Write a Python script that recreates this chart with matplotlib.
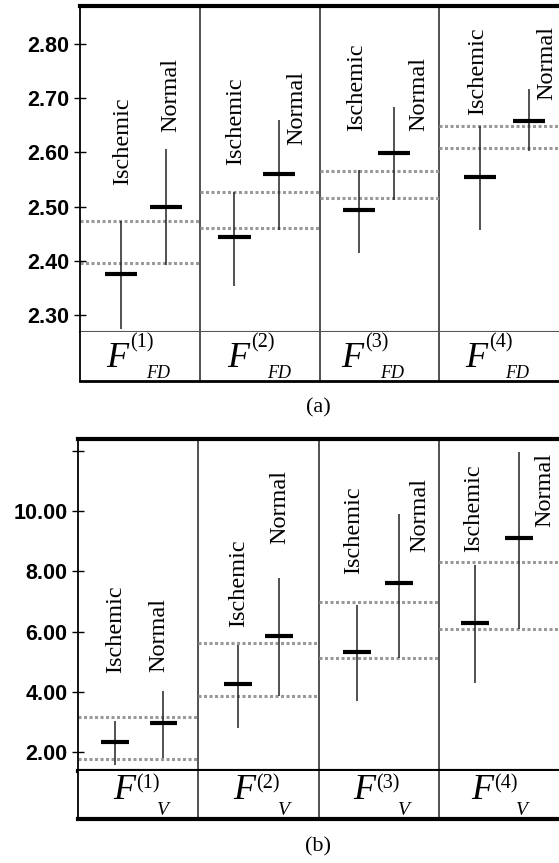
import matplotlib
matplotlib.use("Agg")
import matplotlib.pyplot as plt

# ---------------- data ----------------
groups = ["Ischemic", "Normal"]
col_sup = ["(1)", "(2)", "(3)", "(4)"]

# panel (a): F_FD
fd_isch_mean = [2.376, 2.443, 2.494, 2.555]
fd_isch_lo = [2.275, 2.354, 2.415, 2.457]
fd_isch_hi = [2.474, 2.526, 2.567, 2.648]
fd_norm_mean = [2.500, 2.560, 2.598, 2.658]
fd_norm_lo = [2.393, 2.457, 2.512, 2.602]
fd_norm_hi = [2.607, 2.660, 2.683, 2.717]
fd_ovl_hi = [2.474, 2.526, 2.565, 2.649]
fd_ovl_lo = [2.395, 2.461, 2.515, 2.608]
fd_ticks = [2.30, 2.40, 2.50, 2.60, 2.70, 2.80]
fd_ticklabels = ["2.30", "2.40", "2.50", "2.60", "2.70", "2.80"]

# panel (b): F_V
v_isch_mean = [2.33, 4.27, 5.33, 6.30]
v_isch_lo = [1.57, 2.80, 3.70, 4.30]
v_isch_hi = [3.03, 5.57, 6.90, 8.23]
v_norm_mean = [2.97, 5.87, 7.63, 9.10]
v_norm_lo = [1.80, 3.87, 5.13, 6.10]
v_norm_hi = [4.03, 7.77, 9.90, 11.97]
v_ovl_hi = [3.17, 5.63, 7.00, 8.33]
v_ovl_lo = [1.77, 3.87, 5.13, 6.10]
v_ticks = [2, 4, 6, 8, 10, 12]
v_ticklabels = ["2.00", "4.00", "6.00", "8.00", "10.00", ""]

# ---------------- layout ----------------
W, H = 559, 863
fig = plt.figure(figsize=(W / 100, H / 100), dpi=100)

SERIF = "Liberation Serif"
SANS = "Liberation Sans"


def px_axes(x0, y0, x1, y1):
    return fig.add_axes([x0 / W, 1 - y1 / H, (x1 - x0) / W, (y1 - y0) / H])


def draw_panel(ax, lab, ylim, ticks, ticklabels, im, ilo, ihi, nm, nlo, nhi, ohi, olo,
               xi, xn, half, lab_xi, lab_yi, lab_xn, lab_yn, sub, f_x, f_y, sup_dx, sup_y,
               sub_dx, sub_y, thick_bottom, sub_size):
    ax.set_xlim(0, 4)
    ax.set_ylim(*ylim)
    ax.set_yticks(ticks)
    ax.set_yticklabels(ticklabels, fontfamily=SANS, fontweight="bold", fontsize=15.5)
    ax.tick_params(axis="y", direction="inout", length=9, width=1, pad=3)
    ax.set_xticks([])
    ax.spines["right"].set_visible(False)
    ax.spines["top"].set_linewidth(3)
    ax.spines["left"].set_linewidth(1.3)
    if thick_bottom:
        ax.spines["bottom"].set_linewidth(3)
        ax.spines["bottom"].set_color("black")
    else:
        ax.spines["bottom"].set_linewidth(1.5)
        ax.spines["bottom"].set_color("#555555")
    for i in range(4):
        # overlap dotted lines
        ax.hlines([ohi[i], olo[i]], i, i + 1, colors="#9a9a9a", linewidth=2.2,
                  linestyles=(0, (1, 0.8)), zorder=1)
        # ranges
        ax.vlines(i + xi[i], ilo[i], ihi[i], colors="#222222", linewidth=1.1, zorder=2)
        ax.vlines(i + xn[i], nlo[i], nhi[i], colors="#222222", linewidth=1.1, zorder=2)
        # means
        ax.hlines(im[i], i + xi[i] - half, i + xi[i] + half, colors="black", linewidth=3, zorder=3)
        ax.hlines(nm[i], i + xn[i] - half, i + xn[i] + half, colors="black", linewidth=3, zorder=3)
        # group labels
        ax.text(i + lab_xi[i], lab_yi[i], groups[0], rotation=90, ha="center", va="bottom",
                fontfamily=SERIF, fontsize=17.5)
        ax.text(i + lab_xn[i], lab_yn[i], groups[1], rotation=90, ha="center", va="bottom",
                fontfamily=SERIF, fontsize=17.5)
    for i in range(1, 4):
        ax.axvline(i, color="#333333", linewidth=1.2, zorder=0)

    # label row
    lab.set_xlim(0, 4)
    lab.set_ylim(0, 1)
    lab.set_xticks([])
    lab.set_yticks([])
    lab.spines["top"].set_visible(False)
    lab.spines["right"].set_visible(False)
    lab.spines["left"].set_linewidth(1.3)
    lab.spines["bottom"].set_linewidth(3 if thick_bottom else 2)
    for i in range(1, 4):
        lab.axvline(i, color="#333333", linewidth=1.2)
    for i in range(4):
        x = i + f_x[i]
        lab.text(x, f_y, "F", fontfamily=SERIF, fontstyle="italic", fontsize=26,
                 ha="left", va="baseline")
        lab.text(x + sup_dx, sup_y, col_sup[i], fontfamily=SERIF, fontsize=14.5,
                 ha="left", va="baseline")
        lab.text(x + sub_dx, sub_y, sub, fontfamily=SERIF, fontstyle="italic", fontsize=sub_size,
                 ha="left", va="baseline")


# panel (a)
ax_a = px_axes(80, 6, 559, 332)
lab_a = px_axes(80, 332, 559, 381)
draw_panel(ax_a, lab_a, (2.2686, 2.870), fd_ticks, fd_ticklabels,
           fd_isch_mean, fd_isch_lo, fd_isch_hi, fd_norm_mean, fd_norm_lo, fd_norm_hi,
           fd_ovl_hi, fd_ovl_lo,
           xi=[0.34, 0.29, 0.33, 0.34], xn=[0.72, 0.66, 0.62, 0.75], half=0.135,
           lab_xi=[0.36, 0.30, 0.31, 0.32], lab_yi=[2.540, 2.577, 2.640, 2.669],
           lab_xn=[0.76, 0.81, 0.83, 0.90], lab_yn=[2.638, 2.614, 2.640, 2.697],
           sub="FD", f_x=[0.22, 0.23, 0.18, 0.22], f_y=0.29, sup_dx=0.20, sup_y=0.68,
           sub_dx=0.33, sub_y=0.06, thick_bottom=False, sub_size=13)

# panel (b)
ax_b = px_axes(78, 439, 559, 771)
lab_b = px_axes(78, 771, 559, 819)
draw_panel(ax_b, lab_b, (1.37, 12.4), v_ticks, v_ticklabels,
           v_isch_mean, v_isch_lo, v_isch_hi, v_norm_mean, v_norm_lo, v_norm_hi,
           v_ovl_hi, v_ovl_lo,
           xi=[0.31, 0.33, 0.32, 0.30], xn=[0.71, 0.67, 0.67, 0.67], half=0.115,
           lab_xi=[0.31, 0.34, 0.29, 0.29], lab_yi=[4.63, 6.17, 7.90, 8.63],
           lab_xn=[0.67, 0.68, 0.84, 0.88], lab_yn=[4.67, 8.90, 8.63, 9.47],
           sub="V", f_x=[0.29, 0.29, 0.29, 0.27], f_y=0.42, sup_dx=0.19, sup_y=0.64,
           sub_dx=0.37, sub_y=0.08, thick_bottom=True, sub_size=14)

fig.text(318 / W, 1 - 408 / H, "(a)", fontfamily=SERIF, fontsize=16, ha="center", va="center")
fig.text(318 / W, 1 - 847 / H, "(b)", fontfamily=SERIF, fontsize=16, ha="center", va="center")

fig.savefig("out.png", dpi=100)
